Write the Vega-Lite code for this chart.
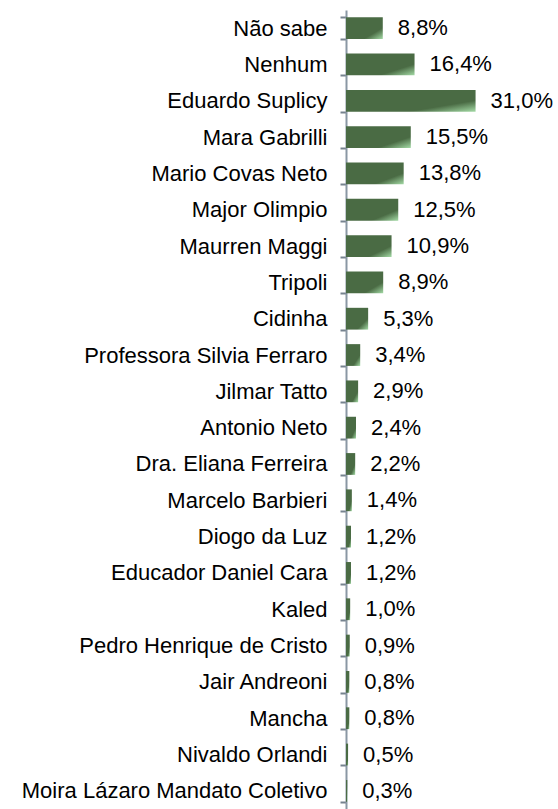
{
  "$schema": "https://vega.github.io/schema/vega-lite/v6.json",
  "autosize": {"type": "none"},
  "padding": {"left": 346, "top": 10, "right": 12, "bottom": 0},
  "width": 200,
  "height": 799,
  "background": "white",
  "config": {"view": {"stroke": null}, "font": "Arial"},
  "data": {
    "values": [
      {"candidato": "Não sabe", "pct": 8.8, "label": "8,8%"},
      {"candidato": "Nenhum", "pct": 16.4, "label": "16,4%"},
      {"candidato": "Eduardo Suplicy", "pct": 31.0, "label": "31,0%"},
      {"candidato": "Mara Gabrilli", "pct": 15.5, "label": "15,5%"},
      {"candidato": "Mario Covas Neto", "pct": 13.8, "label": "13,8%"},
      {"candidato": "Major Olimpio", "pct": 12.5, "label": "12,5%"},
      {"candidato": "Maurren Maggi", "pct": 10.9, "label": "10,9%"},
      {"candidato": "Tripoli", "pct": 8.9, "label": "8,9%"},
      {"candidato": "Cidinha", "pct": 5.3, "label": "5,3%"},
      {"candidato": "Professora Silvia Ferraro", "pct": 3.4, "label": "3,4%"},
      {"candidato": "Jilmar Tatto", "pct": 2.9, "label": "2,9%"},
      {"candidato": "Antonio Neto", "pct": 2.4, "label": "2,4%"},
      {"candidato": "Dra. Eliana Ferreira", "pct": 2.2, "label": "2,2%"},
      {"candidato": "Marcelo Barbieri", "pct": 1.4, "label": "1,4%"},
      {"candidato": "Diogo da Luz", "pct": 1.2, "label": "1,2%"},
      {"candidato": "Educador Daniel Cara", "pct": 1.2, "label": "1,2%"},
      {"candidato": "Kaled", "pct": 1.0, "label": "1,0%"},
      {"candidato": "Pedro Henrique de Cristo", "pct": 0.9, "label": "0,9%"},
      {"candidato": "Jair Andreoni", "pct": 0.8, "label": "0,8%"},
      {"candidato": "Mancha", "pct": 0.8, "label": "0,8%"},
      {"candidato": "Nivaldo Orlandi", "pct": 0.5, "label": "0,5%"},
      {"candidato": "Moira Lázaro Mandato Coletivo", "pct": 0.3, "label": "0,3%"}
    ]
  },
  "encoding": {
    "y": {
      "field": "candidato",
      "type": "nominal",
      "sort": null,
      "scale": {"paddingInner": 0.4, "paddingOuter": 0.2},
      "axis": {
        "title": null,
        "orient": "left",
        "domain": true,
        "domainColor": "#8a97a4",
        "domainWidth": 2,
        "ticks": true,
        "tickBand": "extent",
        "tickSize": 6,
        "tickColor": "#76838f",
        "tickWidth": 2,
        "tickOpacity": 1,
        "labelPadding": 13,
        "labelFontSize": 22,
        "labelFont": "Arial",
        "labelColor": "#000000",
        "labelLimit": 400
      }
    },
    "x": {
      "field": "pct",
      "type": "quantitative",
      "scale": {"domain": [0, 47.85], "nice": false, "zero": true},
      "axis": null
    }
  },
  "layer": [
    {
      "mark": {
        "type": "bar",
        "color": {
          "gradient": "linear",
          "x1": 0, "y1": 0, "x2": 1, "y2": 1,
          "stops": [
            {"offset": 0, "color": "#4a6b44"},
            {"offset": 0.74, "color": "#4a6b44"},
            {"offset": 1, "color": "#a4dba6"}
          ]
        }
      }
    },
    {
      "mark": {
        "type": "text",
        "align": "left",
        "baseline": "middle",
        "dx": 15,
        "fontSize": 22,
        "font": "Arial",
        "color": "#000000"
      },
      "encoding": {"text": {"field": "label"}}
    }
  ]
}
